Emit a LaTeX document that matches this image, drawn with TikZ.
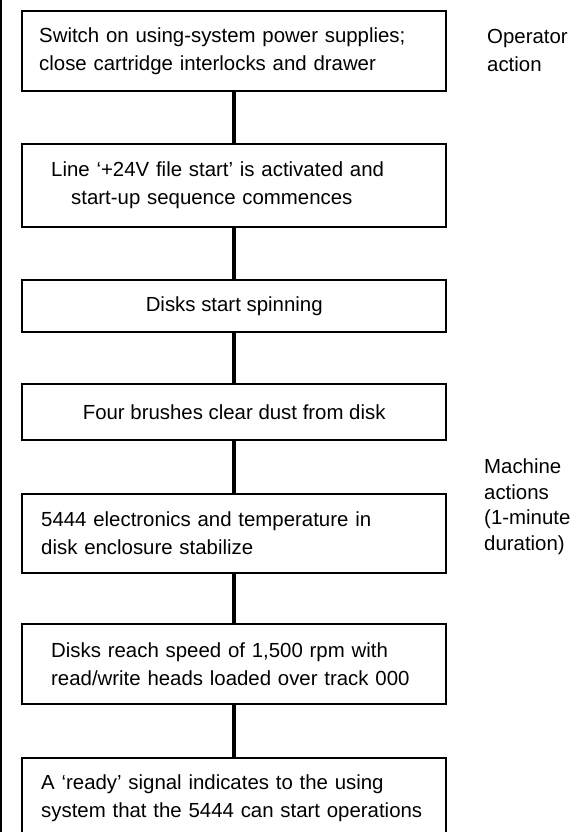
\documentclass[tikz,border=0pt]{standalone}
\usepackage{fontspec}
\setmainfont{Liberation Sans}
\begin{document}
\begin{tikzpicture}[x=1pt,y=-1pt,
  stepbox/.style={draw, line width=2.4pt, minimum width=424pt, anchor=north west,
    align=left, font=\fontsize{20.4}{28}\selectfont, inner sep=0pt},
  link/.style={line width=4pt},
  side/.style={anchor=north west, align=left, font=\fontsize{20.4}{25.5}\selectfont, inner sep=0pt}]
\useasboundingbox (0,0) rectangle (575,832);
\clip (0,0) rectangle (575,832);
\draw[line width=1.6pt] (1,0) -- (1,832);
\node[stepbox, minimum height=80pt, text width=390pt] (b1) at (21,10)
  {\mbox{Switch on using-system power supplies;}\\\mbox{close cartridge interlocks and drawer}};
\node[stepbox, minimum height=83pt, text width=366pt] (b2) at (21,143)
  {\mbox{Line `+24V file start' is activated and}\\\mbox{\hspace*{20pt}start-up sequence commences}};
\node[stepbox, minimum height=52pt, align=center] (b3) at (21,279) {Disks start spinning};
\node[stepbox, minimum height=56pt, align=center] (b4) at (21,383) {Four brushes clear dust from disk};
\node[stepbox, minimum height=79pt, text width=386pt] (b5) at (21,493)
  {\mbox{5444 electronics and temperature in}\\\mbox{disk enclosure stabilize}};
\node[stepbox, minimum height=80pt, text width=366pt] (b6) at (21,623)
  {\mbox{Disks reach speed of 1,500 rpm with}\\\mbox{read/write heads loaded over track 000}};
\node[stepbox, minimum height=80pt, text width=386pt] (b7) at (21,757)
  {\mbox{A `ready' signal indicates to the using}\\\mbox{system that the 5444 can start operations}};
\draw[link] (b1.south) -- (b2.north);
\draw[link] (b2.south) -- (b3.north);
\draw[link] (b3.south) -- (b4.north);
\draw[link] (b4.south) -- (b5.north);
\draw[link] (b5.south) -- (b6.north);
\draw[link] (b6.south) -- (b7.north);
\node[side, font=\fontsize{20.4}{28}\selectfont] (op) at (487,29) {Operator\\action};
\node[side] (ma) at (484,459) {Machine\\actions\\(1-minute\\duration)};
\end{tikzpicture}
\end{document}
